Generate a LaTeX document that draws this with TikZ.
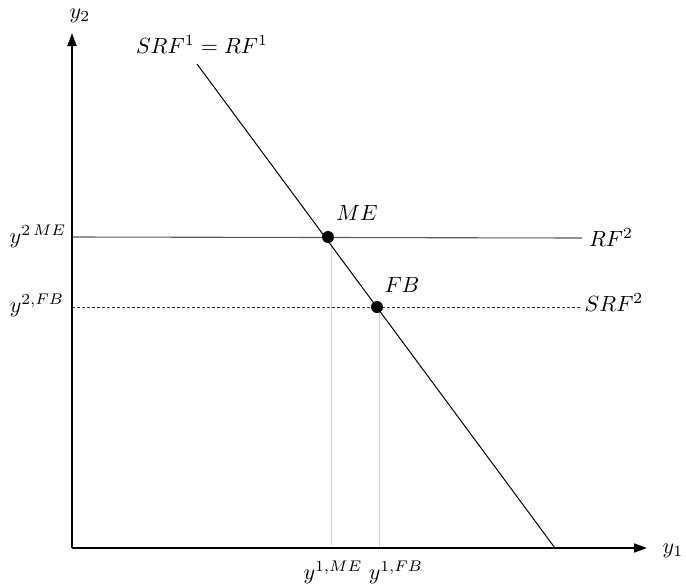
\documentclass[tikz,border=0pt]{standalone}
\usetikzlibrary{arrows.meta}
\begin{document}
\begin{tikzpicture}[x=1pt,y=-1pt,
  axis/.style={line width=1.8pt,-{Triangle[length=13pt,width=9pt]}},
  curve/.style={line width=1pt,black},
  hline/.style={line width=1.1pt,black!65},
  dline/.style={line width=0.9pt,black!80,dash pattern=on 3pt off 2pt},
  guide/.style={line width=1pt,black!18},
  dot/.style={circle,fill=black,inner sep=0pt,minimum size=12pt},
  lab/.style={inner sep=0pt,scale=2.2}]
\useasboundingbox (0,0) rectangle (686,587);
% coordinates
\coordinate (O) at (72,548);
\coordinate (ytop) at (72,33);
\coordinate (xend) at (647,548);
\coordinate (Ltop) at (197,64);
\coordinate (Lbot) at (555,548);
\coordinate (h1s) at (72,237);
\coordinate (h1e) at (582,238);
\coordinate (h2s) at (72,307);
\coordinate (h2e) at (582,307);
\coordinate (g1t) at (331,240);
\coordinate (g1b) at (331,545);
\coordinate (g2t) at (379,310);
\coordinate (g2b) at (379,548);
% guides
\draw[guide] (g1t) -- (g1b);
\draw[guide] (g2t) -- (g2b);
% lines
\draw[hline] (h1s) -- (h1e);
\draw[dline] (h2s) -- (h2e);
\draw[curve] (Ltop) -- (Lbot);
\node[dot] (ME) at (328,237) {};
\node[dot] (FB) at (377,307) {};
% axes
\draw[axis] (O) -- (ytop);
\draw[axis] (O) -- (xend);
% labels
\node[lab] (ly2) at (80,16) {$y_2$};
\node[lab] (ly1) at (673,551) {$y_1$};
\node[lab] (lsrf1) at (202,45) {$SRF^1 = RF^1$};
\node[lab] (lrf2) at (611,238) {$RF^2$};
\node[lab] (lsrf2) at (614,303) {$SRF^2$};
\node[lab] (lme) at (357,213) {$ME$};
\node[lab] (lfb) at (402,285) {$FB$};
\node[lab] (ly2me) at (38,236) {$y^{2\,ME}$};
\node[lab] (ly2fb) at (37,305) {$y^{2,FB}$};
\node[lab] (ly1me) at (333,572) {$y^{1,ME}$};
\node[lab] (ly1fb) at (396,572) {$y^{1,FB}$};
\end{tikzpicture}
\end{document}
